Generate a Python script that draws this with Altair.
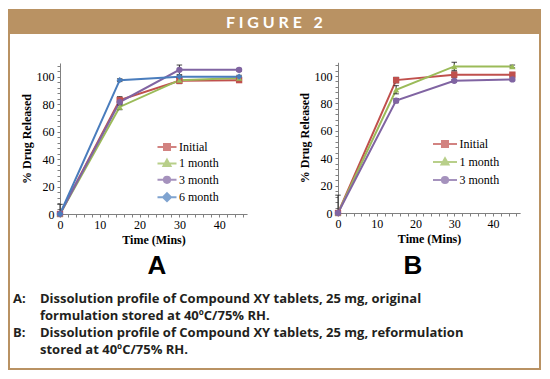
import altair as alt
import pandas as pd

# ---------------- data ----------------
times = [0, 15, 30, 45]

a_names = ["Initial", "1 month", "3 month", "6 month"]
a_initial = [0, 83, 97, 97.5]
a_1month = [0, 78, 97.5, 99]
a_3month = [0, 81.5, 105, 105]
a_6month = [0, 97.5, 100, 100]
a_err_initial = [0, 2.5, 2, 1]
a_err_1month = [0, 2, 1.5, 1]
a_err_3month = [0, 2, 3.5, 1]
a_err_6month = [7, 1, 1, 1]

b_names = ["Initial", "1 month", "3 month"]
b_initial = [0, 97, 101, 101]
b_1month = [0, 90, 107, 107]
b_3month = [0, 82, 96.5, 97.5]
b_err_initial = [13, 2, 2, 1]
b_err_1month = [0, 3, 3, 1]
b_err_3month = [0, 1.5, 1, 1]

x_ticks = list(range(0, 47, 2))
y_ticks = list(range(0, 110, 4))

caption_a = ["Dissolution profile of Compound XY tablets, 25 mg, original",
             "formulation stored at 40\u00baC/75% RH."]
caption_b = ["Dissolution profile of Compound XY tablets, 25 mg, reformulation",
             "stored at 40\u00baC/75% RH."]

# ---------------- style ----------------
TAN = "#B99263"
SERIF = "Liberation Serif"
COLORS = {"Initial": "#C0504D", "1 month": "#9BBB59", "3 month": "#8064A2", "6 month": "#4A7DBD"}
SHAPES = {"Initial": "square", "1 month": "triangle-up", "3 month": "circle", "6 month": "diamond"}


def leg_paths(half):
    # legend glyph: a line segment (half-length in units of 5px) with the series marker
    line = f"M{-half},0H{half}"
    return {
        "Initial": line + "M-0.6,-0.6H0.6V0.6H-0.6Z",
        "1 month": line + "M0,-0.75L0.7,0.5H-0.7Z",
        "3 month": line + "M0.62,0A0.62,0.62,0,1,1,-0.62,0A0.62,0.62,0,1,1,0.62,0Z",
        "6 month": line + "M0,-0.8L0.8,0L0,0.8L-0.8,0Z",
    }


def long_df(names, vals, errs):
    rows = []
    for n, v, e in zip(names, vals, errs):
        for t, y, err in zip(times, v, e):
            rows.append({"series": n, "time": t, "value": y, "err": err,
                         "lo": max(0, y - err), "hi": y + err})
    return pd.DataFrame(rows)


df_a = long_df(a_names, [a_initial, a_1month, a_3month, a_6month],
               [a_err_initial, a_err_1month, a_err_3month, a_err_6month])
df_b = long_df(b_names, [b_initial, b_1month, b_3month],
               [b_err_initial, b_err_1month, b_err_3month])


def make_panel(df, names, g):
    colors = [COLORS[n] for n in names]
    xs = alt.Scale(domain=[0, 47], range=g["xr"], nice=False, zero=False)
    ys = alt.Scale(domain=[0, 110], range=g["yr"], nice=False, zero=False)
    xaxis = alt.Axis(orient="bottom", offset=g["xoff"], values=x_ticks,
                     labelExpr="datum.value % 10 === 0 ? datum.label : ''",
                     labelOverlap=False, labelFlush=False, title="Time (Mins)",
                     titlePadding=4, labelPadding=2, tickSize=3)
    yaxis = alt.Axis(orient="left", offset=g["yoff"], values=y_ticks,
                     labelExpr="datum.value % 20 === 0 ? datum.label : ''",
                     labelOverlap=False, labelFlush=False, title="% Drug Released",
                     titlePadding=3, labelPadding=3, tickSize=3)

    def X(f):
        return alt.X(f, type="quantitative", scale=xs, axis=xaxis)

    def Y(f):
        return alt.Y(f, type="quantitative", scale=ys, axis=yaxis)

    base = alt.Chart(df)
    layers = []
    for n in names:
        layers.append(base.transform_filter(alt.datum.series == n).mark_line(
            strokeWidth=2, color=COLORS[n]).encode(x=X("time"), y=Y("value")))
    layers += [
        base.transform_filter("datum.err > 0").mark_rule(color="#222222", strokeWidth=1).encode(
            x=X("time"), y=Y("lo"), y2="hi"),
        base.transform_filter("datum.err > 0").mark_point(
            shape="stroke", size=30, color="#222222", strokeWidth=1.2).encode(x=X("time"), y=Y("hi")),
        base.transform_filter("datum.err > 0 && datum.lo > 0").mark_point(
            shape="stroke", size=30, color="#222222", strokeWidth=1.2).encode(x=X("time"), y=Y("lo")),
    ]
    for n in names:
        layers.append(
            base.transform_filter(alt.datum.series == n).mark_point(
                filled=True, shape=SHAPES[n], size=40, color=COLORS[n], opacity=1).encode(
                x=X("time"), y=Y("value")))
    paths_d = leg_paths(g["half"])
    paths = [paths_d[n] for n in names]
    leg = alt.Legend(orient="none", legendX=g["lx"], legendY=g["ly"], title=None,
                     labelFont=SERIF, labelFontSize=12, labelColor="black",
                     symbolSize=100, symbolStrokeWidth=2, rowPadding=g["rp"],
                     symbolOffset=g["so"], labelOffset=g["lo"], padding=0, offset=0,
                     symbolFillColor="black", symbolStrokeColor="black")
    dummy = base.transform_filter("datum.time < 0")
    layers.append(dummy.mark_point().encode(
        x=X("time"), y=Y("value"),
        fill=alt.Fill("series:N", scale=alt.Scale(domain=names, range=colors), legend=leg),
        stroke=alt.Stroke("series:N", scale=alt.Scale(domain=names, range=colors), legend=leg),
        shape=alt.Shape("series:N", scale=alt.Scale(domain=names, range=paths), legend=leg)))
    return alt.layer(*layers)


W, H = 531, 359
geom_a = {"xr": [51, 51 + 3.98 * 47], "yr": [204, 204 - 1.373 * 110], "xoff": 204 - H, "yoff": -51,
          "lx": 147.5, "ly": 131, "rp": 1.4, "half": 1.9, "so": 4.5, "lo": 6}
geom_b = {"xr": [329, 329 + 3.875 * 47], "yr": [203, 203 - 1.37 * 110], "xoff": 203 - H, "yoff": -329,
          "lx": 423, "ly": 128, "rp": 3.0, "half": 2.4, "so": 7, "lo": 8.5}

panel_a = make_panel(df_a, a_names, geom_a)
panel_b = make_panel(df_b, b_names, geom_b)

one = pd.DataFrame({"k": [0]})
NB = "\u00a0"
header_txt = NB.join(list("FIGURE")) + NB * 3 + "2"
deco = [
    alt.Chart(one).mark_rect(color=TAN).encode(
        x=alt.value(0), x2=alt.value(W), y=alt.value(0), y2=alt.value(24)),
    alt.Chart(one).mark_text(text=header_txt, font="Lato", fontWeight="bold", fontSize=16,
                             color="white", align="center", baseline="middle").encode(
        x=alt.value(W / 2), y=alt.value(12.5)),
    alt.Chart(one).mark_text(text="A", font="Liberation Sans", fontWeight="bold", fontSize=26,
                             color="black", align="center", baseline="middle").encode(
        x=alt.value(148), y=alt.value(256)),
    alt.Chart(one).mark_text(text="B", font="Liberation Sans", fontWeight="bold", fontSize=26,
                             color="black", align="center", baseline="middle").encode(
        x=alt.value(404), y=alt.value(256)),
]
cap_style = dict(font="Open Sans", fontWeight="bold", fontSize=13, color="#231F20",
                 align="left", baseline="middle")
cap_rows = [("A:", caption_a[0], 289), (None, caption_a[1], 306),
            ("B:", caption_b[0], 323), (None, caption_b[1], 340)]
for lab, txt, yy in cap_rows:
    if lab:
        deco.append(alt.Chart(one).mark_text(text=lab, **cap_style).encode(
            x=alt.value(4), y=alt.value(yy)))
    deco.append(alt.Chart(one).mark_text(text=txt, **cap_style).encode(
        x=alt.value(31), y=alt.value(yy)))

chart = alt.layer(panel_a, panel_b, *deco).resolve_scale(
    x="independent", y="independent", fill="independent",
    stroke="independent", shape="independent"
).resolve_axis(x="independent", y="independent").resolve_legend(
    fill="independent", stroke="independent", shape="independent"
).properties(
    width=W, height=H, padding={"left": 1, "top": 2, "right": 2, "bottom": 2},
    autosize=alt.AutoSizeParams(type="none"), background="white"
).configure_view(stroke=TAN, strokeWidth=2).configure_axis(
    labelFont=SERIF, labelFontSize=12, labelColor="black", titleFont=SERIF, titleFontSize=12,
    titleFontWeight="bold", titleColor="black", domainColor="#808080", tickColor="#808080",
    grid=False)

chart.save("out.html", embed_options={"renderer": "svg", "actions": False})
